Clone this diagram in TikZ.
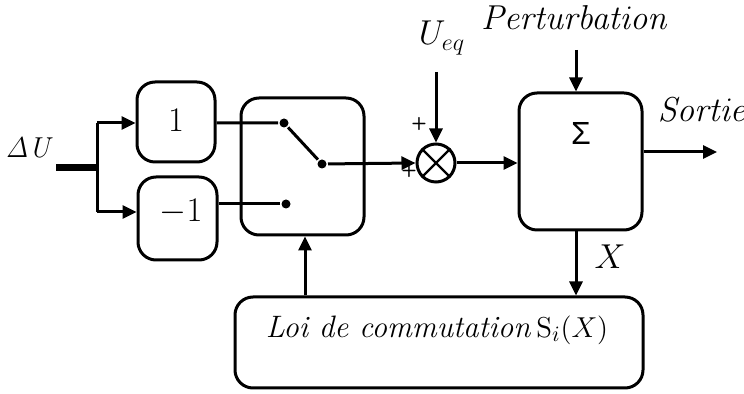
\documentclass[tikz,border=0pt]{standalone}
\usepackage[no-math]{fontspec}
\newfontfamily\lsans{Liberation Sans}
\usetikzlibrary{arrows.meta}
\begin{document}
\begin{tikzpicture}[x=0.5pt,y=-0.5pt,
  line width=1.5pt,
  blk/.style={draw,rounded corners=9pt,inner sep=0pt},
  arr/.style={-{Triangle[length=7pt,width=6.5pt]}},
  dotc/.style={circle,fill,inner sep=0pt,minimum size=4.5pt},
  lbl/.style={font=\fontsize{16.5}{20}\selectfont,inner sep=0pt},
  pls/.style={font=\sffamily\bfseries\fontsize{9}{10}\selectfont,inner sep=0pt}]
\useasboundingbox (0,0) rectangle (744,394);
% blocks
\node[blk,minimum width=39pt,minimum height=40pt] (g1) at (176,122) {};
\node[lbl,font=\fontsize{18}{20}\selectfont] at (176,120) {$1$};
\node[blk,minimum width=39.5pt,minimum height=41.5pt] (g2) at (177.5,218.5) {};
\node[lbl,font=\fontsize{18}{20}\selectfont] at (181,212) {$-1$};
\node[blk,minimum width=61.5pt,minimum height=68.5pt] (sys) at (580.5,161.5) {};
\node[blk,minimum width=61.5pt,minimum height=68.5pt] (sw) at (302.5,166.5) {};
\node[inner sep=0pt] at (581,133) {\fontsize{16}{18}\lsans\symbol{"03A3}};
\node[blk,minimum width=204pt,minimum height=45.5pt] (law) at (439,342.5) {};
\node[lbl,font=\fontsize{15.5}{18}\selectfont] at (437,330) {\textit{Loi de commutation}\,$\mathrm{S}_i(X)$};
\node[draw,circle,inner sep=0pt,minimum size=19pt] (mul) at (436,163) {};
\draw[line width=1.2pt] (mul.north east) -- (mul.south west) (mul.north west) -- (mul.south east);
% input
\coordinate (in) at (56,168);
\coordinate (br) at (97,168);
\coordinate (bt) at (97,123);
\coordinate (bb) at (97,212);
\node[lbl,font=\fontsize{15.5}{18}\selectfont] (du) at (30,148) {$\mathit{\Delta U}$};
\draw[line width=3.5pt] (in) -- (br);
\draw (bt) -- (bb);
\draw[arr] (bt) -- (bt -| g1.west);
\draw[arr] (bb) -- (bb -| g2.west);
% switch
\node[dotc] (sa) at (284,123) {};
\node[dotc] (sb) at (322,164) {};
\node[dotc] (sc) at (286,204) {};
\draw (sa -| g1.east) -- (sa) -- (sb);
\draw (sc -| g2.east) -- (sc);
\draw[arr] (sb) -- (mul.west);
% summing point
\coordinate (ueq) at (436,72);
\node[lbl] at (442,38) {$U_{eq}$};
\draw[arr] (ueq) -- (mul.north);
\node[pls] at (419,124) {+};
\node[pls] at (409,171) {+};
\draw[arr] (mul.east) -- (mul.east -| sys.west);
% system
\coordinate (pert) at (576,50);
\node[lbl,font=\fontsize{16}{19}\selectfont] at (575,18) {$\mathit{Perturbation}$};
\draw[arr] (pert) -- (pert |- sys.north);
\coordinate (out) at (717,152);
\node[lbl] at (703,110) {$\mathit{Sortie}$};
\draw[arr] (out -| sys.east) -- (out);
\draw[arr] (pert |- sys.south) -- (pert |- law.north);
\node[lbl] at (610,257) {$X$};
\draw[arr] (305,0 |- law.north) -- (305,0 |- sw.south);
\end{tikzpicture}
\end{document}
